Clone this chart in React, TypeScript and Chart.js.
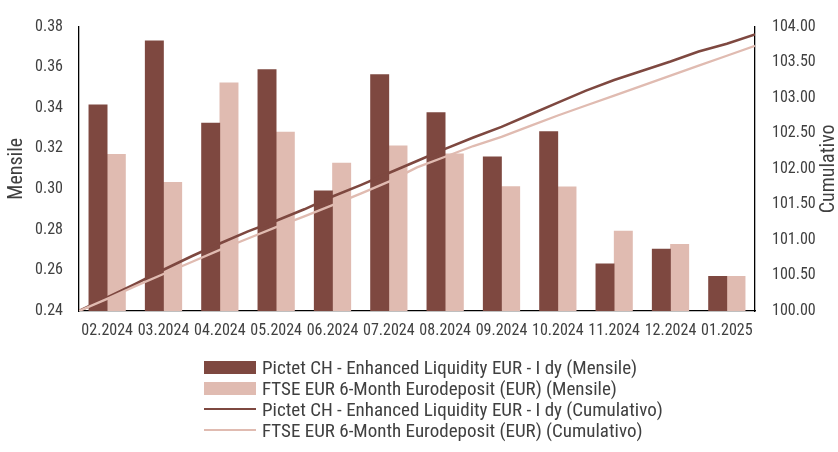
import React, { useEffect, useRef } from "react";
import { Chart, registerables } from "chart.js";

Chart.register(...registerables);

const categories = ["02.2024", "03.2024", "04.2024", "05.2024", "06.2024", "07.2024", "08.2024", "09.2024", "10.2024", "11.2024", "12.2024", "01.2025"];
const pictetMonthly = [0.3415, 0.373, 0.3325, 0.3588, 0.2992, 0.3564, 0.3377, 0.3159, 0.3283, 0.2632, 0.2705, 0.2571];
const ftseMonthly = [0.3171, 0.3033, 0.3523, 0.3281, 0.3128, 0.3213, 0.3174, 0.3013, 0.3011, 0.2793, 0.2728, 0.2571];
// cumulative, sampled twice a month (31.01.2024 .. 31.01.2025)
const pictetCum = [100.0, 100.19, 100.38, 100.58, 100.77, 100.95, 101.12, 101.27, 101.43, 101.61, 101.77, 101.94, 102.11, 102.28, 102.44, 102.59, 102.76, 102.93, 103.1, 103.25, 103.38, 103.51, 103.65, 103.76, 103.89];
const ftseCum = [100.0, 100.17, 100.35, 100.52, 100.69, 100.86, 101.02, 101.18, 101.33, 101.49, 101.65, 101.82, 102.02, 102.17, 102.32, 102.45, 102.6, 102.75, 102.89, 103.03, 103.17, 103.31, 103.45, 103.59, 103.73];
const leftTicks = [0.24, 0.38, 0.02];
const rightTicks = [100, 104, 0.5];
const leftTitle = "Mensile";
const rightTitle = "Cumulativo";

const legendLabels = [
  "Pictet CH - Enhanced Liquidity EUR - I dy (Mensile)",
  "FTSE EUR 6-Month Eurodeposit (EUR) (Mensile)",
  "Pictet CH - Enhanced Liquidity EUR - I dy (Cumulativo)",
  "FTSE EUR 6-Month Eurodeposit (EUR) (Cumulativo)",
];

const DARK = "#7e4840";
const LIGHT = "#e0bbb1";
const TEXT = "#404040";
const FAMILY = "Roboto";
const STRETCH = "condensed";

const rightTitlePlugin = {
  id: "rightTitle",
  afterDraw(chart: any) {
    const { ctx, chartArea } = chart;
    ctx.save();
    ctx.font = `${STRETCH} 20px ${FAMILY}`;
    ctx.fillStyle = TEXT;
    ctx.textAlign = "center";
    ctx.textBaseline = "middle";
    ctx.translate(829, (chartArea.top + chartArea.bottom) / 2);
    ctx.rotate(-Math.PI / 2);
    ctx.fillText(rightTitle, 0, 0);
    ctx.restore();
  },
};

export default function App() {
  const ref = useRef<HTMLCanvasElement | null>(null);
  useEffect(() => {
    if (!ref.current) return;
    const tickFont = { family: FAMILY, weight: STRETCH as any, size: 16 };
    const chart = new Chart(ref.current, {
      data: {
        labels: categories,
        datasets: [
          {
            type: "line",
            label: legendLabels[2],
            data: pictetCum.map((v, i) => ({ x: i, y: v })),
            xAxisID: "xl",
            yAxisID: "y1",
            borderColor: DARK,
            borderWidth: 2.6,
            pointRadius: 0,
            tension: 0,
            order: 1,
          },
          {
            type: "line",
            label: legendLabels[3],
            data: ftseCum.map((v, i) => ({ x: i, y: v })),
            xAxisID: "xl",
            yAxisID: "y1",
            borderColor: LIGHT,
            borderWidth: 2.3,
            pointRadius: 0,
            tension: 0,
            order: 0,
          },
          {
            type: "bar",
            label: legendLabels[0],
            data: pictetMonthly,
            xAxisID: "x",
            yAxisID: "y",
            backgroundColor: DARK,
            barThickness: 18.3,
            order: 2,
          },
          {
            type: "bar",
            label: legendLabels[1],
            data: ftseMonthly,
            xAxisID: "x",
            yAxisID: "y",
            backgroundColor: LIGHT,
            barThickness: 18.3,
            order: 3,
          },
        ],
      },
      options: {
        animation: false,
        responsive: false,
        maintainAspectRatio: false,
        layout: { padding: { top: 15.5, bottom: 107, left: 0, right: 0 } },
        plugins: { legend: { display: false }, tooltip: { enabled: false } },
        scales: {
          x: {
            type: "category",
            offset: true,
            grid: { display: false, drawTicks: false },
            border: { display: true, color: "#000", width: 1.3 },
            ticks: { color: TEXT, font: tickFont, padding: 10, maxRotation: 0, autoSkip: false },
            afterFit: (s: any) => { s.height = 34; },
          },
          xl: {
            type: "linear",
            display: false,
            min: 0,
            max: pictetCum.length - 1,
            offset: false,
          },
          y: {
            type: "linear",
            position: "left",
            min: leftTicks[0],
            max: leftTicks[1],
            grid: { display: false, drawTicks: false },
            border: { display: true, color: "#000", width: 1.3 },
            ticks: { stepSize: leftTicks[2], color: TEXT, font: tickFont, padding: 16, callback: (v: any) => Number(v).toFixed(2) },
            title: { display: true, text: leftTitle, color: TEXT, font: { family: FAMILY, weight: STRETCH as any, size: 20, lineHeight: 1 }, padding: { top: 7, bottom: 0 } },
            afterFit: (s: any) => { s.width = 79; },
          },
          y1: {
            type: "linear",
            position: "right",
            min: rightTicks[0],
            max: rightTicks[1],
            grid: { display: false, drawTicks: false },
            border: { display: true, color: "#000", width: 1.3 },
            ticks: { stepSize: rightTicks[2], color: TEXT, font: tickFont, padding: 17, callback: (v: any) => Number(v).toFixed(2) },
            afterFit: (s: any) => { s.width = 83; },
          },
        },
      },
      plugins: [rightTitlePlugin],
    });
    return () => chart.destroy();
  }, []);

  const rowTops = [357, 378, 399, 420];
  return (
    <div style={{ position: "fixed", left: 0, top: 0, width: 838, height: 452, background: "#fff" }}>
      <canvas ref={ref} width={838} height={452} style={{ width: 838, height: 452, display: "block" }} />
      {legendLabels.map((t, i) => (
        <div key={t} style={{ position: "absolute", left: 204, top: rowTops[i], height: 20, display: "flex", alignItems: "center", fontFamily: FAMILY, fontStretch: STRETCH, fontSize: 19, color: TEXT, whiteSpace: "nowrap" }}>
          {i < 2 ? (
            <span style={{ display: "inline-block", width: 52, height: 13, background: i === 0 ? DARK : LIGHT }} />
          ) : (
            <span style={{ display: "inline-block", width: 52, height: 2.6, background: i === 2 ? DARK : LIGHT }} />
          )}
          <span style={{ marginLeft: 6 }}>{t}</span>
        </div>
      ))}
    </div>
  );
}
